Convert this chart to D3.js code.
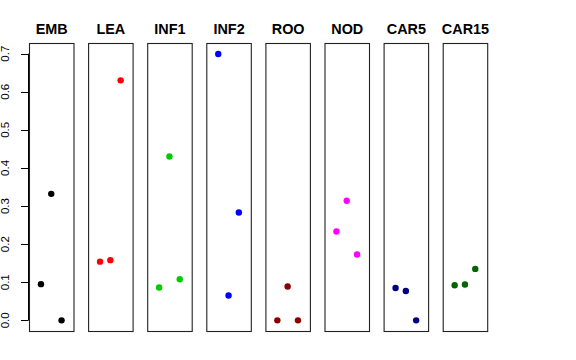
<!DOCTYPE html>
<html><head><meta charset="utf-8">
<script src="https://cdn.jsdelivr.net/npm/d3@7"></script>
<style>body{margin:0;background:#fff}svg{display:block}</style>
</head><body>
<script>
const categories = ["EMB","LEA","INF1","INF2","ROO","NOD","CAR5","CAR15"];
const colors = ["#000000","#FF0000","#00CD00","#0000FF","#8B0000","#FF00FF","#000080","#006400"];
const values = [
  [0.095, 0.332, 0.000],
  [0.154, 0.158, 0.630],
  [0.086, 0.430, 0.108],
  [0.699, 0.065, 0.283],
  [0.000, 0.089, 0.000],
  [0.233, 0.314, 0.173],
  [0.085, 0.077, 0.000],
  [0.092, 0.094, 0.135]
];
const yTicks = [0, 0.1, 0.2, 0.3, 0.4, 0.5, 0.6, 0.7];

(function () {
const W = 576, H = 360;
const svg = d3.select("body").append("svg").attr("width", W).attr("height", H);

const pTop = 43, pBottom = 331, panelW = 44.5, step = 59.1, left0 = 29;
const y = d3.scaleLinear().domain([-0.028, 0.728]).range([pBottom, pTop]);
const x = d3.scaleLinear().domain([-0.16, 4.16]).range([0, panelW]);
const panelX = d3.scaleBand().domain(categories).range([left0, left0 + step * categories.length]).paddingInner(0).paddingOuter(0);

// Y axis
const axisG = svg.append("g").attr("transform", `translate(${left0 - 0.5},0)`);
axisG.append("line").attr("x1", 0).attr("x2", 0).attr("y1", y(0)).attr("y2", y(0.7)).attr("stroke", "#000");
axisG.selectAll("line.tick").data(yTicks).join("line").attr("class","tick")
  .attr("x1", -7.5).attr("x2", 0).attr("y1", d => Math.round(y(d)) + 0.5).attr("y2", d => Math.round(y(d)) + 0.5).attr("stroke", "#000");
axisG.selectAll("text").data(yTicks).join("text")
  .attr("transform", d => `translate(${9.2 - (left0 - 0.5)},${y(d)}) rotate(-90)`)
  .attr("text-anchor", "middle")
  .attr("font-family", "Liberation Sans, Arial, sans-serif")
  .attr("font-size", 11.5)
  .text(d => d.toFixed(1));

categories.forEach((c, i) => {
  const px = panelX(c);
  const g = svg.append("g").attr("transform", `translate(${px},0)`);
  g.append("rect").attr("x", 0.5).attr("y", pTop + 0.5).attr("width", panelW).attr("height", pBottom - pTop)
    .attr("fill", "none").attr("stroke", "#222").attr("stroke-width", 1.1);
  g.append("text").attr("x", panelW / 2 + 0.5).attr("y", 34)
    .attr("text-anchor", "middle").attr("font-family", "Liberation Sans, Arial, sans-serif")
    .attr("font-weight", "bold").attr("font-size", 14.4).text(c);
  g.selectAll("circle").data(values[i]).join("circle")
    .attr("cx", (d, j) => x(j + 1))
    .attr("cy", d => y(d))
    .attr("r", 3.2)
    .attr("fill", colors[i]);
});
})();
</script>
</body></html>
